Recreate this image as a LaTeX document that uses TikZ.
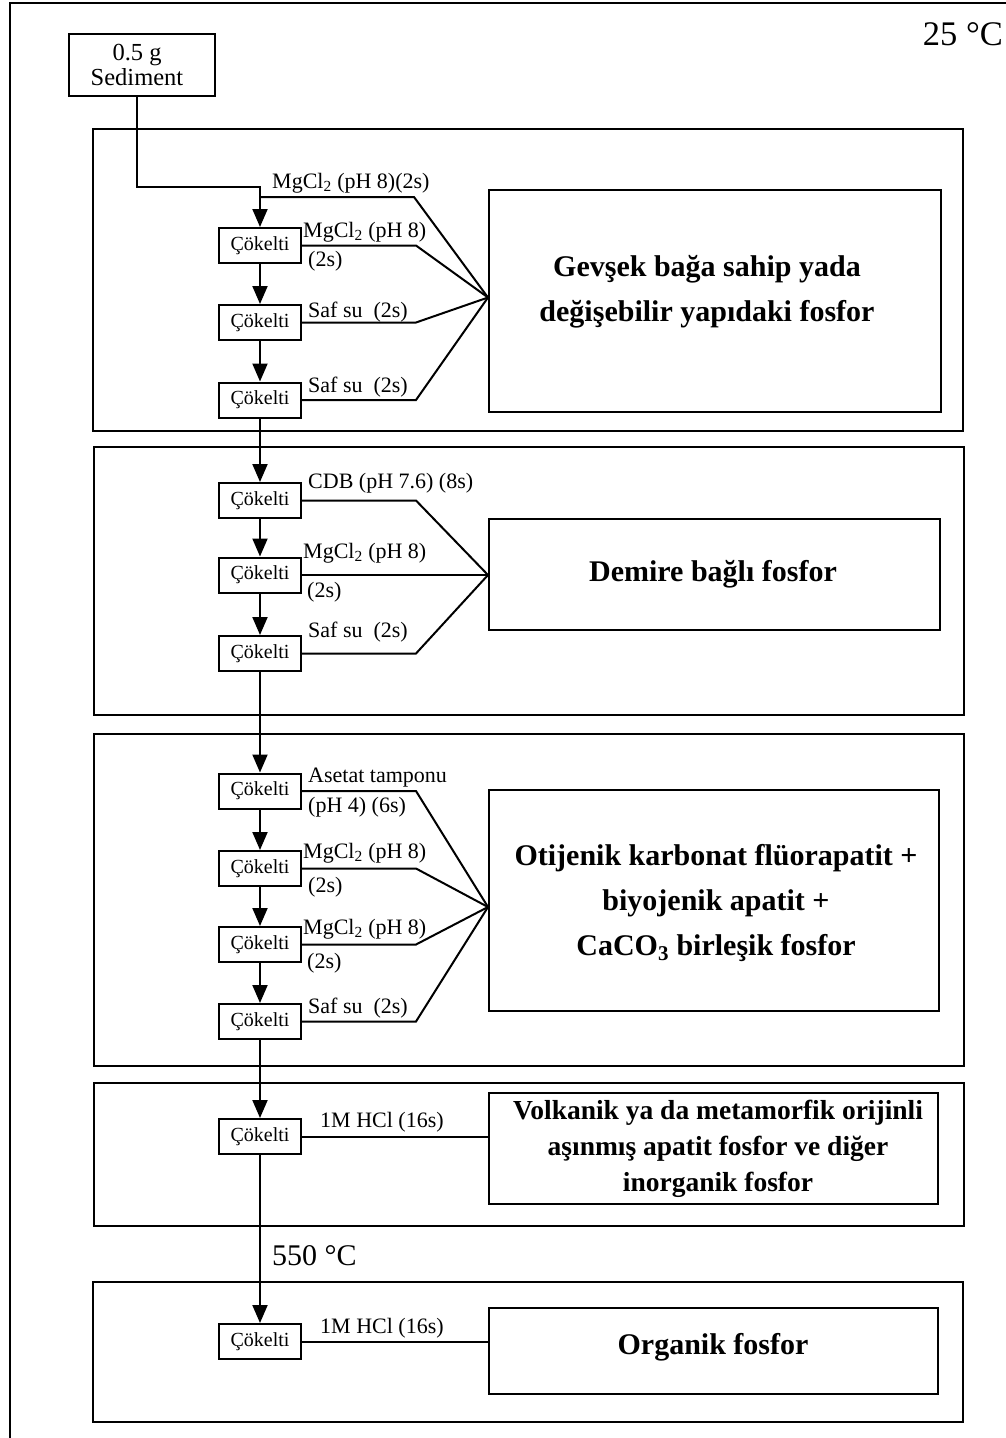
\documentclass[tikz,border=0pt]{standalone}
\usepackage{fontspec}
\setmainfont{Liberation Serif}
\usetikzlibrary{arrows.meta}
\begin{document}
\begin{tikzpicture}[x=1pt,y=-1pt,line join=miter,
  ln/.style={line width=2pt},
  arr/.style={line width=2pt,-{Triangle[length=18pt,width=15pt]}},
  cbox/.style={draw,line width=2pt,minimum width=82pt,minimum height=35pt,inner sep=0pt,font=\fontsize{20}{24}\selectfont},
  sbox/.style={draw,line width=2pt,minimum width=146pt,minimum height=62pt,inner sep=0pt,align=center,font=\fontsize{24.5}{25}\selectfont},
  rbox/.style={draw,line width=2pt,inner sep=0pt},
  rtext/.style={inner sep=0pt,align=center,font=\fontsize{30}{45}\selectfont\bfseries},
  rtextsm/.style={inner sep=0pt,align=center,font=\fontsize{27.5}{36}\selectfont\bfseries},
  lab/.style={anchor=base west,inner sep=0pt,font=\fontsize{22}{26}\selectfont},
  temp/.style={inner sep=0pt,font=\fontsize{30}{34}\selectfont}]
\useasboundingbox (0,0) rectangle (1005,1438);
% outer frame
\draw[ln] (10,1460) -- (10,3) -- (1020,3);
\node[temp,anchor=base east,font=\fontsize{34.5}{38}\selectfont] (t25) at (1003,45) {25 °C};
% sediment
\node[sbox] (sed) at (142,65) {\hspace*{-10pt}0.5 g\\\hspace*{-10pt}Sediment};
% ---------------- section 1
\draw[ln] (93,129) rectangle (963,431);
\node[cbox] (c11) at (260,245.5) {Çökelti};
\node[cbox] (c12) at (260,322.5) {Çökelti};
\node[cbox] (c13) at (260,400) {Çökelti};
\node[rbox,minimum width=452pt,minimum height=222pt] (r1) at (715,301) {};
\node[rtext] (t1) at (707,292) {Gevşek bağa sahip yada\\değişebilir yapıdaki fosfor};
\coordinate (f1) at ([yshift=3.5pt]r1.west);
\coordinate (j1) at (260,197);
\draw[arr] ([xshift=-5pt]sed.south) -- ++(0,90) -| (c11.north);
\draw[ln] (j1) -- (414,197) -- (f1);
\draw[ln] (c11.east) -- ++(114,0) -- (f1);
\draw[ln] (c12.east) -- ++(114,0) -- (f1);
\draw[ln] (c13.east) -- ++(114,0) -- (f1);
\draw[arr] (c11) -- (c12);
\draw[arr] (c12) -- (c13);
\node[lab] (l11) at (272,188) {MgCl\textsubscript{2} (pH 8)(2s)};
\node[lab] (l12) at (303,237) {MgCl\textsubscript{2} (pH 8)};
\node[lab] (l12b) at (308,266) {(2s)};
\node[lab] (l13) at (308,317) {Saf su\ \ (2s)};
\node[lab] (l14) at (308,392) {Saf su\ \ (2s)};
% ---------------- section 2
\draw[ln] (94,447) rectangle (964,715);
\node[cbox] (c21) at (260,500.5) {Çökelti};
\node[cbox] (c22) at (260,575) {Çökelti};
\node[cbox] (c23) at (260,653.5) {Çökelti};
\node[rbox,minimum width=451pt,minimum height=111pt] (r2) at (714.5,574.5) {};
\node[rtext] (t2) at (713,574) {Demire bağlı fosfor};
\coordinate (f2) at (c22.east -| r2.west);
\draw[ln] (c21.east) -- ++(114,0) -- (f2);
\draw[ln] (c22.east) -- (f2);
\draw[ln] (c23.east) -- ++(114,0) -- (f2);
\draw[arr] (c13) -- (c21);
\draw[arr] (c21) -- (c22);
\draw[arr] (c22) -- (c23);
\node[lab] (l21) at (308,488) {CDB (pH 7.6) (8s)};
\node[lab] (l22) at (303,558) {MgCl\textsubscript{2} (pH 8)};
\node[lab] (l22b) at (307,597) {(2s)};
\node[lab] (l23) at (308,637) {Saf su\ \ (2s)};
% ---------------- section 3
\draw[ln] (94,734) rectangle (964,1066);
\node[cbox] (c31) at (260,791) {Çökelti};
\node[cbox] (c32) at (260,868.5) {Çökelti};
\node[cbox] (c33) at (260,944.5) {Çökelti};
\node[cbox] (c34) at (260,1021.5) {Çökelti};
\node[rbox,minimum width=450pt,minimum height=221pt] (r3) at (714,900.5) {};
\node[rtext] (t3) at (716,903) {Otijenik karbonat flüorapatit +\\biyojenik apatit +\\CaCO\textsubscript{3} birleşik fosfor};
\coordinate (f3) at ([yshift=-6.5pt]r3.west);
\draw[ln] (c31.east) -- ++(114,0) -- (f3);
\draw[ln] (c32.east) -- ++(114,0) -- (f3);
\draw[ln] (c33.east) -- ++(114,0) -- (f3);
\draw[ln] (c34.east) -- ++(114,0) -- (f3);
\draw[arr] (c23) -- (c31);
\draw[arr] (c31) -- (c32);
\draw[arr] (c32) -- (c33);
\draw[arr] (c33) -- (c34);
\node[lab] (l31) at (308,782) {Asetat tamponu};
\node[lab] (l31b) at (308,812) {(pH 4) (6s)};
\node[lab] (l32) at (303,858) {MgCl\textsubscript{2} (pH 8)};
\node[lab] (l32b) at (308,892) {(2s)};
\node[lab] (l33) at (303,934) {MgCl\textsubscript{2} (pH 8)};
\node[lab] (l33b) at (307,968) {(2s)};
\node[lab] (l34) at (308,1013) {Saf su\ \ (2s)};
% ---------------- section 4
\draw[ln] (94,1083) rectangle (964,1226);
\node[cbox] (c4) at (260,1136.5) {Çökelti};
\node[rbox,minimum width=449pt,minimum height=111pt] (r4) at (713.5,1148.5) {};
\node[rtextsm] (t4) at (718,1149) {Volkanik ya da metamorfik orijinli\\aşınmış apatit fosfor ve diğer\\inorganik fosfor};
\draw[ln] (c4.east) -- (c4.east -| r4.west);
\draw[arr] (c34) -- (c4);
\node[lab] (l4) at (320,1127) {1M HCl (16s)};
% ---------------- section 5
\draw[ln] (93,1282) rectangle (963,1422);
\node[cbox] (c5) at (260,1341.5) {Çökelti};
\node[rbox,minimum width=449pt,minimum height=86pt] (r5) at (713.5,1351) {};
\node[rtext] (t5) at (713,1347) {Organik fosfor};
\draw[ln] (c5.east) -- (c5.east -| r5.west);
\draw[arr] (c4) -- (c5);
\node[lab] (l5) at (320,1333) {1M HCl (16s)};
\node[temp,anchor=base west] (t550) at (272,1265) {550 °C};
\end{tikzpicture}
\end{document}
